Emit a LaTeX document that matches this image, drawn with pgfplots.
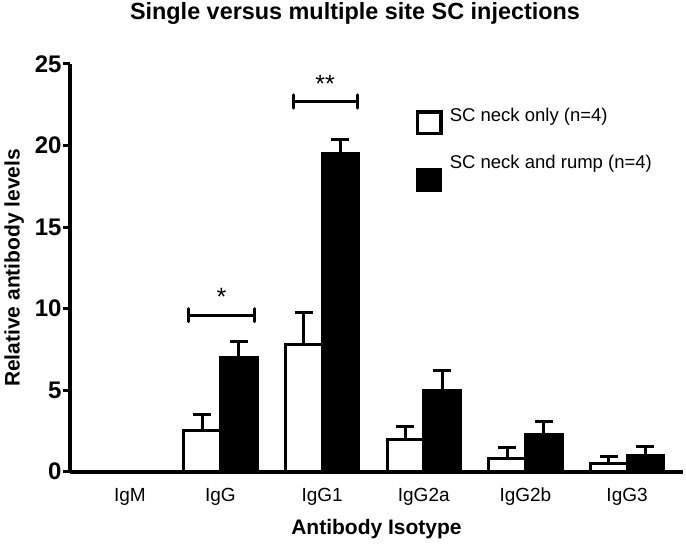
\documentclass[border=0pt]{standalone}
\usepackage{fontspec}
\setmainfont{Liberation Sans}
\usepackage{pgfplots}
\pgfplotsset{compat=1.18}
\pgfplotsset{
  myerr/.style={draw=none, mark=none, forget plot,
    error bars/.cd, y dir=plus, y explicit,
    error bar style={draw=black, line width=3pt, solid},
    error mark options={draw=black, line width=3pt, mark size=9pt, rotate=90, solid}},
}
\begin{document}
\begin{tikzpicture}
\begin{axis}[
  at={(0pt,0pt)}, anchor=south west,
  scale only axis, width=613pt, height=407.7pt,
  xmin=-0.48, xmax=5.55, ymin=0, ymax=25,
  axis x line*=bottom, axis y line*=left,
  axis line style={line width=4pt, -},
  ytick={0,5,10,15,20,25},
  xtick={0.11,1,2,3,4,5},
  xticklabels={IgM,IgG,IgG1,IgG2a,IgG2b,IgG3},
  x tick style={draw=none},
  y tick style={line width=3pt, black},
  tick align=outside, major tick length=7pt,
  yticklabel style={font=\bfseries\fontsize{24}{24}\selectfont, xshift=2pt},
  xticklabel style={font=\fontsize{19}{19}\selectfont, yshift=-6pt},
  /pgf/number format/assume math mode=true,
  xlabel={Antibody Isotype},
  ylabel={Relative antibody levels},
  xlabel style={font=\bfseries\fontsize{21}{21}\selectfont, yshift=-6pt},
  ylabel style={font=\bfseries\fontsize{21}{21}\selectfont, yshift=4pt},
  legend style={at={(rel axis cs:0.616,0.898)}, anchor=north west, draw=none, fill=none,
    font=\fontsize{18.5}{18.5}\selectfont, row sep=28pt, inner sep=0pt},
  legend cell align=left,
  clip=false,
]
\addplot[ybar, bar width=0.36, bar shift=-0.18, fill=white, draw=black, line width=3pt,
  legend image code/.code={\draw[overlay, fill=white, draw=black, line width=3.5pt] (-30.2pt,-18.2pt) rectangle (-6.7pt,3.2pt);},
  ] coordinates {
  (1,2.5) (2,7.8) (3,2.0) (4,0.78) (5,0.5)
};
\addlegendentry{SC neck only (n=4)}
\addplot[ybar, bar width=0.36, bar shift=0.18, fill=black, draw=black, line width=3pt,
  legend image code/.code={\fill[overlay, black] (-30pt,-28pt) rectangle (-7pt,-7pt);},
  ] coordinates {
  (1,7.0) (2,19.5) (3,5.0) (4,2.3) (5,1.0)
};
\addlegendentry{SC neck and rump (n=4)}
\addplot[myerr] coordinates {
  (0.82,2.5) +- (0,1.0)
  (1.82,7.8) +- (0,1.95)
  (2.82,2.0) +- (0,0.8)
  (3.82,0.78) +- (0,0.72)
  (4.82,0.5) +- (0,0.46)
};
\addplot[myerr] coordinates {
  (1.18,7.0) +- (0,1.0)
  (2.18,19.5) +- (0,0.9)
  (3.18,5.0) +- (0,1.2)
  (4.18,2.3) +- (0,0.77)
  (5.18,1.0) +- (0,0.57)
};
\draw[line width=3pt, line cap=round] (axis cs:0.69,9.6) -- (axis cs:1.33,9.6);
\draw[line width=3pt, line cap=round] (axis cs:0.69,9.2) -- (axis cs:0.69,10.0);
\draw[line width=3pt, line cap=round] (axis cs:1.33,9.2) -- (axis cs:1.33,10.0);
\node[font=\fontsize{25}{25}\selectfont] at (axis cs:1.01,10.7) {*};
\draw[line width=3pt, line cap=round] (axis cs:1.72,22.7) -- (axis cs:2.35,22.7);
\draw[line width=3pt, line cap=round] (axis cs:1.72,22.3) -- (axis cs:1.72,23.1);
\draw[line width=3pt, line cap=round] (axis cs:2.35,22.3) -- (axis cs:2.35,23.1);
\node[font=\fontsize{25}{25}\selectfont] at (axis cs:2.03,23.8) {**};
\end{axis}
\node[anchor=base, font=\bfseries\fontsize{23.4}{23.4}\selectfont] at (285pt,451.7pt) {Single versus multiple site SC injections};
\pgfresetboundingbox
\path (-70pt,-73.3pt) rectangle (616pt,471.7pt);
\end{tikzpicture}
\end{document}
